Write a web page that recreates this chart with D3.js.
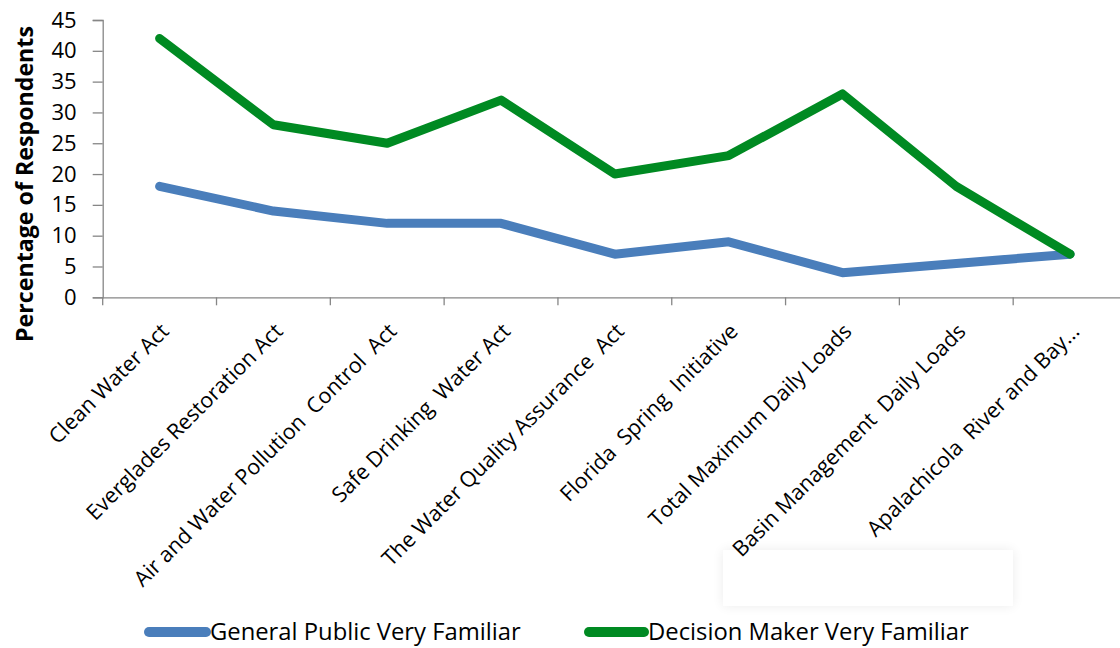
<!DOCTYPE html>
<html>
<head>
<meta charset="utf-8">
<script src="https://cdn.jsdelivr.net/npm/d3@7"></script>
<style>
  html, body { margin: 0; padding: 0; background: #fff; }
  svg { display: block; }
</style>
</head>
<body>
<svg id="chart" width="1120" height="648"></svg>
<script>
const categories = [
  "Clean Water Act",
  "Everglades Restoration Act",
  "Air and Water Pollution  Control  Act",
  "Safe Drinking  Water Act",
  "The Water Quality Assurance  Act",
  "Florida  Spring  Initiative",
  "Total Maximum Daily Loads",
  "Basin Management  Daily Loads",
  "Apalachicola  River and Bay..."
];
const generalPublic = [18, 14, 12, 12, 7, 9, 4, 5.5, 7];
const decisionMaker = [42, 28, 25, 32, 20, 23, 33, 18, 7];
const yTicks = [0, 5, 10, 15, 20, 25, 30, 35, 40, 45];
const seriesNames = ["General Public Very Familiar", "Decision Maker Very Familiar"];
const seriesColors = ["#4a7ebb", "#008a22"];

const svg = d3.select("#chart");
const font = "'Open Sans', 'Noto Sans', sans-serif";

const x = d3.scaleBand().domain(categories).range([102.7, 1127]);
const y = d3.scaleLinear().domain([0, 45]).range([297.3, 20]);

// faint shadowed box (artifact in the reference)
const defs = svg.append("defs");
const f = defs.append("filter").attr("id", "soft").attr("x", "-20%").attr("y", "-50%").attr("width", "140%").attr("height", "200%");
f.append("feGaussianBlur").attr("in", "SourceAlpha").attr("stdDeviation", 6);
f.append("feComponentTransfer").append("feFuncA").attr("type", "linear").attr("slope", 0.08);
const m = f.append("feMerge");
m.append("feMergeNode");
m.append("feMergeNode").attr("in", "SourceGraphic");
svg.append("rect").attr("x", 723).attr("y", 550).attr("width", 290).attr("height", 56)
  .attr("fill", "#fff").attr("filter", "url(#soft)");

// Y axis
const yAxis = d3.axisLeft(y).tickValues(yTicks).tickSize(10).tickPadding(16);
const gy = svg.append("g").attr("transform", "translate(102.7,0)").call(yAxis);
gy.select(".domain").attr("stroke", "#868686").attr("stroke-width", 1.3);
gy.selectAll(".tick line").attr("stroke", "#868686").attr("stroke-width", 1.3);
gy.selectAll(".tick text").attr("font-family", font).attr("font-size", 22).attr("fill", "#000");

// X axis
const xAxis = d3.axisBottom(x).tickSize(0).tickFormat("");
const gx = svg.append("g").attr("transform", "translate(0,297.3)").call(xAxis);
gx.select(".domain").attr("stroke", "#868686").attr("stroke-width", 1.3);
// boundary tick marks between categories
const bounds = categories.map(c => x(c)).concat([x.range()[1]]);
gx.selectAll(".bound").data(bounds).enter().append("line")
  .attr("x1", d => d).attr("x2", d => d).attr("y1", 0).attr("y2", 8)
  .attr("stroke", "#868686").attr("stroke-width", 1.3);

// X labels
svg.append("g").selectAll("text").data(categories).enter().append("text")
  .attr("transform", d => `translate(${x(d) + x.bandwidth() / 2},${322}) rotate(-45)`)
  .attr("text-anchor", "end")
  .attr("dy", "0.7em")
  .attr("font-family", font).attr("font-size", 21.5).attr("fill", "#000")
  .style("white-space", "pre")
  .text(d => d);

// Y title
svg.append("text")
  .attr("transform", "translate(33,184) rotate(-90)")
  .attr("text-anchor", "middle")
  .attr("font-family", font).attr("font-weight", "bold").attr("font-size", 23.2)
  .attr("fill", "#000")
  .text("Percentage of Respondents");

// Lines
const line = d3.line()
  .x((d, i) => x(categories[i]) + x.bandwidth() / 2)
  .y(d => y(d));
[generalPublic, decisionMaker].forEach((s, k) => {
  svg.append("path").datum(s)
    .attr("d", line)
    .attr("fill", "none")
    .attr("stroke", seriesColors[k])
    .attr("stroke-width", 9)
    .attr("stroke-linejoin", "round")
    .attr("stroke-linecap", "round");
});

// Legend
const legendPos = [{x1: 149, x2: 206, tx: 210}, {x1: 589, x2: 644, tx: 648}];
const lg = svg.append("g");
seriesNames.forEach((n, k) => {
  lg.append("line")
    .attr("x1", legendPos[k].x1).attr("x2", legendPos[k].x2)
    .attr("y1", 632).attr("y2", 632)
    .attr("stroke", seriesColors[k]).attr("stroke-width", 10).attr("stroke-linecap", "round");
  lg.append("text")
    .attr("x", legendPos[k].tx).attr("y", 640)
    .attr("font-family", font).attr("font-size", 23.8).attr("fill", "#000")
    .text(n);
});
</script>
</body>
</html>
